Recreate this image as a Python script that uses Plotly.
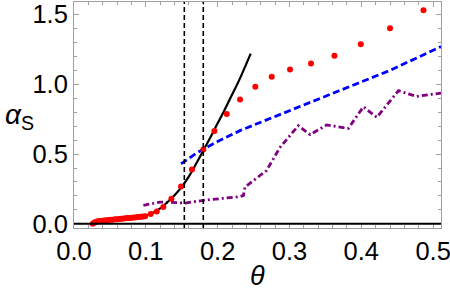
import plotly.graph_objects as go

# red data points
red_x = [0.026, 0.028, 0.030, 0.032, 0.034, 0.036, 0.039, 0.042, 0.045, 0.048, 0.051,
         0.054, 0.057, 0.060, 0.063, 0.066, 0.069, 0.072, 0.075, 0.078, 0.081, 0.084,
         0.087, 0.090, 0.093, 0.096, 0.099, 0.1068, 0.1152, 0.1244, 0.1356, 0.149,
         0.1643, 0.1801, 0.1955, 0.2127, 0.2312, 0.2525, 0.2753, 0.3008, 0.330,
         0.3626, 0.3993, 0.440, 0.4866]
red_y = [0.0, 0.008, 0.013, 0.016, 0.018, 0.020, 0.022, 0.024, 0.026, 0.027, 0.029,
         0.030, 0.032, 0.033, 0.035, 0.036, 0.038, 0.039, 0.041, 0.042, 0.044, 0.046,
         0.047, 0.049, 0.050, 0.052, 0.055, 0.070, 0.089, 0.12, 0.18, 0.268,
         0.389, 0.532, 0.665, 0.787, 0.891, 0.982, 1.054, 1.106, 1.149,
         1.204, 1.287, 1.401, 1.530]

# black fit curve
fit_x = [0.095, 0.11, 0.12, 0.13, 0.14, 0.15, 0.16, 0.17, 0.18, 0.19, 0.20, 0.21, 0.22, 0.23, 0.246]
fit_y = [0.05, 0.08, 0.11, 0.155, 0.205, 0.265, 0.34, 0.43, 0.525, 0.62, 0.72, 0.82, 0.925, 1.03, 1.22]

# blue dashed curve
blue_x = [0.149, 0.16, 0.17, 0.18, 0.20, 0.231, 0.30, 0.37, 0.44, 0.511]
blue_y = [0.43, 0.47, 0.505, 0.535, 0.59, 0.668, 0.81, 0.954, 1.10, 1.27]

# purple dash-dot curve
purple_x = [0.0966, 0.12, 0.155, 0.18, 0.231, 0.236, 0.238, 0.268, 0.287, 0.3124, 0.3287,
            0.352, 0.382, 0.403, 0.4216, 0.4517, 0.477, 0.511]
purple_y = [0.132, 0.156, 0.149, 0.168, 0.195, 0.204, 0.263, 0.382, 0.549, 0.704, 0.639,
            0.709, 0.684, 0.839, 0.763, 0.954, 0.913, 0.937]

# vertical dashed markers
vlines_x = [0.1536, 0.180]

x_ticks = [0.0, 0.1, 0.2, 0.3, 0.4, 0.5]
y_ticks = [0.0, 0.5, 1.0, 1.5]

FONT = "Liberation Sans, Arial, sans-serif"

fig = go.Figure()
fig.add_hline(y=0, line=dict(color="black", width=2))
for xv in vlines_x:
    fig.add_vline(x=xv, line=dict(color="black", width=1.6, dash="5px,3px"))

fig.add_trace(go.Scatter(x=purple_x, y=purple_y, mode="lines",
                         line=dict(color="#800080", width=2.8, dash="6px,3px,2px,3px")))
fig.add_trace(go.Scatter(x=blue_x, y=blue_y, mode="lines",
                         line=dict(color="#0000ff", width=2.8, dash="7px,3.5px")))
fig.add_trace(go.Scatter(x=fit_x, y=fit_y, mode="lines", line=dict(color="black", width=2.2, shape="spline")))
fig.add_trace(go.Scatter(x=red_x, y=red_y, mode="markers",
                         marker=dict(color="#ff0000", size=6, line=dict(width=0))))

axis_common = dict(showgrid=False, zeroline=False, showline=True, linecolor="#a0a0a0",
                   linewidth=1, mirror="ticks", ticks="inside", tickcolor="#a0a0a0",
                   ticklen=5, tickwidth=1, ticklabeloverflow="allow", automargin=False,
                   tickfont=dict(family=FONT, size=25.5, color="black"))

fig.update_xaxes(range=[0, 0.511], tickvals=x_ticks, tickformat=".1f",
                 minor=dict(ticks="inside", dtick=0.02, ticklen=3, tickcolor="#a0a0a0"),
                 **axis_common)
fig.update_yaxes(range=[-0.03, 1.59], tickvals=y_ticks, tickformat=".1f",
                 minor=dict(ticks="inside", dtick=0.1, ticklen=3, tickcolor="#a0a0a0"),
                 **axis_common)

fig.update_layout(
    width=450, height=296,
    margin=dict(l=74, r=9, t=2, b=68),
    paper_bgcolor="white", plot_bgcolor="white",
    showlegend=False,
    font=dict(family=FONT, color="black"),
    annotations=[
        dict(text="<i>θ</i>", xref="paper", yref="paper", x=0.5, y=-0.213,
             xanchor="center", yanchor="middle", showarrow=False,
             font=dict(family=FONT, size=27, color="black")),
        dict(text="<i>α</i><sub>S</sub>", xref="paper", yref="paper", x=-0.148, y=0.495,
             xanchor="center", yanchor="middle", showarrow=False,
             font=dict(family=FONT, size=28, color="black")),
    ],
)

fig.write_html("out.html", config={"displayModeBar": False},
               post_script="document.body.style.margin='0px';document.body.style.overflow='hidden';")
